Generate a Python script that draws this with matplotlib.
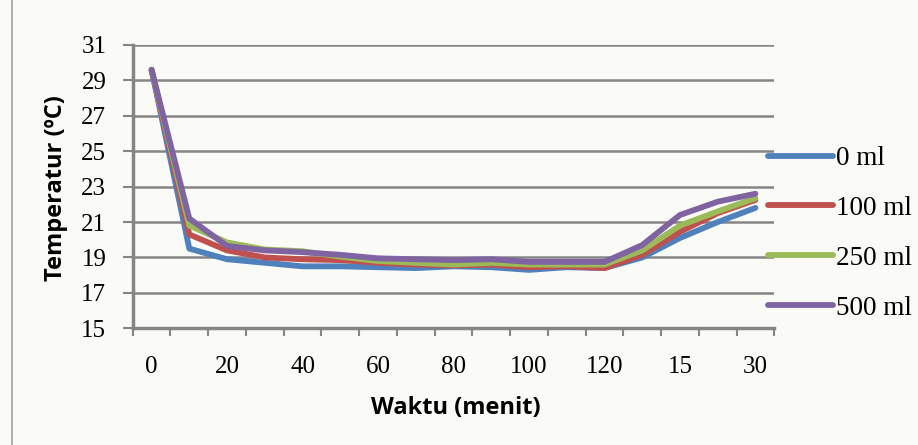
import matplotlib
matplotlib.use("Agg")
import matplotlib.pyplot as plt
import numpy as np
from matplotlib.lines import Line2D

# waktu (menit): 0..120 tiap 10 menit, lalu 4 titik sampai 30
kategori = ["0", "10", "20", "30", "40", "50", "60", "70", "80", "90", "100",
            "110", "120", "7,5", "15", "22,5", "30"]

suhu_0 = [29.6, 19.5, 18.9, 18.7, 18.5, 18.5, 18.45, 18.4, 18.5, 18.45, 18.3,
          18.45, 18.4, 19.0, 20.1, 21.0, 21.8]
suhu_100 = [29.6, 20.3, 19.4, 19.0, 18.9, 18.85, 18.7, 18.6, 18.55, 18.6, 18.45,
            18.5, 18.4, 19.15, 20.45, 21.5, 22.25]
suhu_250 = [29.6, 20.8, 19.85, 19.45, 19.35, 19.05, 18.8, 18.7, 18.6, 18.7, 18.6,
            18.6, 18.6, 19.4, 20.8, 21.6, 22.35]
suhu_500 = [29.6, 21.2, 19.65, 19.4, 19.3, 19.15, 18.95, 18.9, 18.85, 18.9, 18.75,
            18.75, 18.75, 19.7, 21.4, 22.15, 22.6]

label_seri = ["0 ml", "100 ml", "250 ml", "500 ml"]
warna = ["#4F81BD", "#C0504D", "#9BBB59", "#8064A2"]
yticks = [15, 17, 19, 21, 23, 25, 27, 29, 31]

bg = "#fafbf6"
abu = "#858585"
serif = "Liberation Serif"
fs = 18

fig = plt.figure(figsize=(9.18, 4.45), dpi=100, facecolor=bg)
ax = fig.add_axes([132.7 / 918, 1 - 328.3 / 445, (774.3 - 132.7) / 918, (328.3 - 45) / 445])
ax.set_facecolor(bg)

x = np.arange(len(kategori))
for data, lab, c in zip([suhu_0, suhu_100, suhu_250, suhu_500], label_seri, warna):
    ax.plot(x, data, color=c, lw=4.2, label=lab, solid_capstyle="round",
            solid_joinstyle="round", zorder=3)

ax.set_xlim(-0.5, len(kategori) - 0.5)
ax.set_ylim(15, 31)
ax.set_yticks(yticks)
ax.set_yticklabels([str(v) for v in yticks], fontfamily=serif, fontsize=fs)
ax.set_xticks(x[::2])
ax.set_xticklabels(kategori[::2], fontfamily=serif, fontsize=fs)
ax.set_xticks(np.arange(-0.5, len(kategori)), minor=True)

ax.tick_params(axis="x", which="major", length=0, pad=20)
ax.tick_params(axis="x", which="minor", length=6, width=1.5, color=abu, direction="out")
ax.tick_params(axis="y", length=7, width=1.5, color=abu, pad=12)

ax.grid(axis="y", color=abu, lw=1.8, zorder=1)
ax.set_axisbelow(True)
for s in ["top", "right"]:
    ax.spines[s].set_visible(False)
for s in ["left", "bottom"]:
    ax.spines[s].set_color(abu)
    ax.spines[s].set_linewidth(2.5)

fig.text(456 / 918, 1 - 408 / 445, "Waktu (menit)", ha="center", va="center",
         fontsize=17, fontweight="bold", fontfamily="Open Sans")
fig.text(56 / 918, 1 - 188 / 445, "Temperatur (ºC)", ha="center", va="center",
         rotation=90, fontsize=17, fontweight="bold", fontfamily="Open Sans")

leg = ax.legend(loc="upper left", bbox_to_anchor=(768 / 918, 1 - 146 / 445),
                bbox_transform=fig.transFigure, frameon=False,
                prop={"family": serif, "size": 19.5}, handlelength=2.4,
                handletextpad=0.1, labelspacing=0.92, borderaxespad=0, borderpad=0)
for h in leg.get_lines():
    h.set_linewidth(4.2)

# garis tepi kiri area chart
fig.add_artist(Line2D([12 / 918, 12 / 918], [0, 1], transform=fig.transFigure,
                      color="#a0a0a0", lw=1.2))

fig.savefig("out.png", dpi=100, facecolor=bg)
